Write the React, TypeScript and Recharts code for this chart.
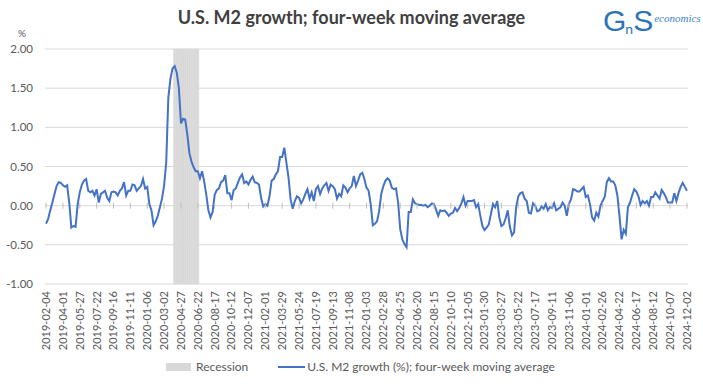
import React from 'react';
import { ComposedChart, Bar, Line, XAxis, YAxis, CartesianGrid } from 'recharts';

// Weekly M2 growth, four-week moving average (%), from 2019-02-04
const START_WEEK = '2019-02-04';
const M2_GROWTH: number[] = [
  -0.23, -0.17, -0.06, 0.04, 0.15, 0.25, 0.30, 0.29, 0.26, 0.24,
  0.26, 0.04, -0.28, -0.26, -0.27, 0.02, 0.17, 0.27, 0.32, 0.34,
  0.19, 0.17, 0.19, 0.13, 0.21, 0.04, 0.15, 0.17, 0.19, 0.10,
  0.06, 0.17, 0.18, 0.17, 0.13, 0.19, 0.22, 0.30, 0.13, 0.19,
  0.19, 0.27, 0.26, 0.19, 0.22, 0.25, 0.34, 0.22, 0.24, 0.02,
  -0.06, -0.25, -0.20, -0.13, -0.02, 0.09, 0.26, 0.55, 1.38, 1.62,
  1.75, 1.78, 1.70, 1.50, 1.05, 1.11, 1.10, 0.91, 0.67, 0.56,
  0.49, 0.44, 0.44, 0.35, 0.44, 0.31, 0.14, -0.06, -0.15, -0.08,
  0.14, 0.20, 0.22, 0.30, 0.32, 0.39, 0.16, 0.16, 0.07, 0.20,
  0.22, 0.29, 0.36, 0.40, 0.29, 0.31, 0.27, 0.33, 0.37, 0.30,
  0.29, 0.27, 0.10, -0.01, 0.02, 0.00, 0.12, 0.32, 0.34, 0.40,
  0.44, 0.62, 0.62, 0.74, 0.55, 0.36, 0.08, -0.04, 0.06, 0.12,
  0.10, 0.03, 0.08, 0.15, 0.21, 0.09, 0.17, 0.06, 0.21, 0.25,
  0.15, 0.22, 0.26, 0.29, 0.19, 0.27, 0.25, 0.21, 0.09, 0.15,
  0.12, 0.26, 0.23, 0.17, 0.22, 0.25, 0.38, 0.25, 0.32, 0.40,
  0.42, 0.34, 0.23, 0.19, 0.02, -0.25, -0.23, -0.20, -0.07, 0.15,
  0.25, 0.32, 0.35, 0.32, 0.23, 0.21, 0.22, 0.04, -0.30, -0.43,
  -0.49, -0.53, -0.08, -0.08, 0.08, 0.03, 0.02, 0.01, 0.01, 0.00,
  0.01, -0.02, 0.00, 0.03, 0.02, -0.05, -0.13, -0.06, -0.07, -0.06,
  -0.09, -0.13, -0.10, -0.09, -0.03, -0.07, -0.03, 0.03, 0.11, 0.00,
  0.06, 0.06, 0.06, 0.07, -0.02, 0.02, -0.13, -0.26, -0.31, -0.28,
  -0.24, -0.11, 0.02, -0.02, 0.06, -0.15, -0.26, -0.24, -0.16, -0.06,
  -0.27, -0.38, -0.34, -0.02, 0.12, 0.16, 0.17, 0.09, 0.06, -0.09,
  -0.10, 0.03, 0.00, -0.07, -0.06, -0.01, -0.04, 0.02, -0.06, -0.02,
  -0.03, 0.03, -0.06, -0.04, -0.02, 0.04, 0.00, -0.13, 0.02, 0.08,
  0.21, 0.20, 0.18, 0.18, 0.21, 0.24, 0.11, 0.13, 0.02, -0.15,
  -0.19, -0.09, -0.14, 0.00, 0.06, 0.11, 0.30, 0.35, 0.31, 0.31,
  0.26, 0.13, -0.13, -0.43, -0.31, -0.36, -0.02, 0.04, 0.13, 0.21,
  0.18, 0.12, 0.01, 0.06, 0.03, 0.06, 0.00, 0.11, 0.11, 0.17,
  0.13, 0.09, 0.20, 0.16, 0.11, 0.04, 0.04, 0.04, 0.16, 0.06,
  0.16, 0.24, 0.29, 0.24, 0.19,
];

// shaded recession weeks
const RECESSION_START = '2020-04-06';
const RECESSION_END = '2020-06-22';

const TICK_LABELS = [
  '2019-02-04', '2019-04-01', '2019-05-27', '2019-07-22', '2019-09-16', '2019-11-11',
  '2020-01-06', '2020-03-02', '2020-04-27', '2020-06-22', '2020-08-17', '2020-10-12',
  '2020-12-07', '2021-02-01', '2021-03-29', '2021-05-24', '2021-07-19', '2021-09-13',
  '2021-11-08', '2022-01-03', '2022-02-28', '2022-04-25', '2022-06-20', '2022-08-15',
  '2022-10-10', '2022-12-05', '2023-01-30', '2023-03-27', '2023-05-22', '2023-07-17',
  '2023-09-11', '2023-11-06', '2024-01-01', '2024-02-26', '2024-04-22', '2024-06-17',
  '2024-08-12', '2024-10-07', '2024-12-02',
];

const Y_TICKS = [-1, -0.5, 0, 0.5, 1, 1.5, 2];
const Y_MIN = -1;
const Y_MAX = 2;

const W = 703;
const H = 387;
const MARGIN = { top: 49, right: 15, bottom: 0, left: 0 };
const X_AXIS_H = 103;
const PLOT_H = H - MARGIN.top - MARGIN.bottom - X_AXIS_H;
const ZERO_OFFSET = (PLOT_H * (0 - Y_MIN)) / (Y_MAX - Y_MIN);

const FONT = 'Lato, "Open Sans", sans-serif';
const GRAY = '#595959';
const LINE_BLUE = '#4472C4';
const SHADE = '#D9D9D9';

const weekLabel = (i: number) => {
  const d = new Date(START_WEEK + 'T00:00:00Z');
  d.setUTCDate(d.getUTCDate() + i * 7);
  return d.toISOString().slice(0, 10);
};

const data = M2_GROWTH.map((v, i) => {
  const week = weekLabel(i);
  const rec = week >= RECESSION_START && week <= RECESSION_END;
  return { week, m2: v, recession: rec ? [Y_MIN, Y_MAX] : null };
});

const DateTick = (props: any) => {
  const { x, y, payload } = props;
  return (
    <g transform={`translate(${x},${y})`}>
      <line x1={0} x2={0} y1={-ZERO_OFFSET - 3} y2={-ZERO_OFFSET + 3} stroke="#BFBFBF" />
      <text
        transform="rotate(-90)"
        x={-7}
        y={0}
        dy="0.35em"
        textAnchor="end"
        fill={GRAY}
        fontSize={11}
        fontFamily={FONT}
      >
        {payload.value}
      </text>
    </g>
  );
};

export default function App() {
  return (
    <div
      style={{
        position: 'absolute',
        left: 0,
        top: 0,
        width: W,
        height: H,
        overflow: 'hidden',
        background: '#fff',
        fontFamily: FONT,
      }}
    >
      <div
        style={{
          position: 'absolute',
          top: 6,
          left: 0,
          width: W,
          textAlign: 'center',
          fontSize: 18,
          fontWeight: 700,
          color: '#404040',
        }}
      >
        U.S. M2 growth; four-week moving average
      </div>
      <div style={{ position: 'absolute', top: 6, left: 603, color: '#2E72B8', whiteSpace: 'nowrap', lineHeight: 1 }}>
        <span style={{ fontSize: 30, fontFamily: '"Liberation Sans", sans-serif', letterSpacing: -1 }}>G</span>
        <span style={{ fontSize: 14, position: 'relative', top: 3 }}>n</span>
        <span style={{ fontSize: 30, fontFamily: '"Liberation Sans", sans-serif' }}>S</span>
        <span
          style={{
            fontSize: 11,
            fontStyle: 'italic',
            fontFamily: '"Liberation Serif", serif',
            position: 'relative',
            top: -9,
            marginLeft: 1,
            color: '#3C7FC8',
          }}
        >
          economics
        </span>
      </div>
      <div style={{ position: 'absolute', top: 27, left: 18, fontSize: 10, color: GRAY }}>%</div>

      <ComposedChart width={W} height={H} data={data} margin={MARGIN} barCategoryGap={0} barGap={0}>
        <CartesianGrid horizontal vertical={false} stroke={SHADE} />
        <XAxis
          dataKey="week"
          ticks={TICK_LABELS}
          interval={0}
          height={X_AXIS_H}
          axisLine={false}
          tickLine={false}
          tickSize={0}
          tickMargin={0}
          tick={<DateTick />}
        />
        <YAxis
          domain={[Y_MIN, Y_MAX]}
          ticks={Y_TICKS}
          width={45}
          axisLine={false}
          tickLine={false}
          tickMargin={6}
          tickFormatter={(v: number) => v.toFixed(2)}
          tick={{ fill: GRAY, fontSize: 11.5, fontFamily: FONT }}
        />
        <Bar
          dataKey="recession"
          name="Recession"
          fill={SHADE}
          stroke={SHADE}
          strokeWidth={0.5}
          isAnimationActive={false}
        />
        <Line
          type="linear"
          dataKey="m2"
          name="U.S. M2 growth (%); four-week moving average"
          stroke={LINE_BLUE}
          strokeWidth={2}
          dot={false}
          isAnimationActive={false}
        />
      </ComposedChart>

      <div
        style={{
          position: 'absolute',
          top: 359,
          left: 0,
          width: W,
          display: 'flex',
          justifyContent: 'center',
          alignItems: 'center',
          fontSize: 12,
          color: GRAY,
          paddingLeft: 18,
          boxSizing: 'border-box',
        }}
      >
        <span style={{ display: 'inline-block', width: 25, height: 8, background: SHADE, marginRight: 5 }} />
        <span style={{ marginRight: 30 }}>Recession</span>
        <span style={{ display: 'inline-block', width: 27, height: 2, background: LINE_BLUE, marginRight: 2 }} />
        <span>U.S. M2 growth (%); four-week moving average</span>
      </div>
    </div>
  );
}
